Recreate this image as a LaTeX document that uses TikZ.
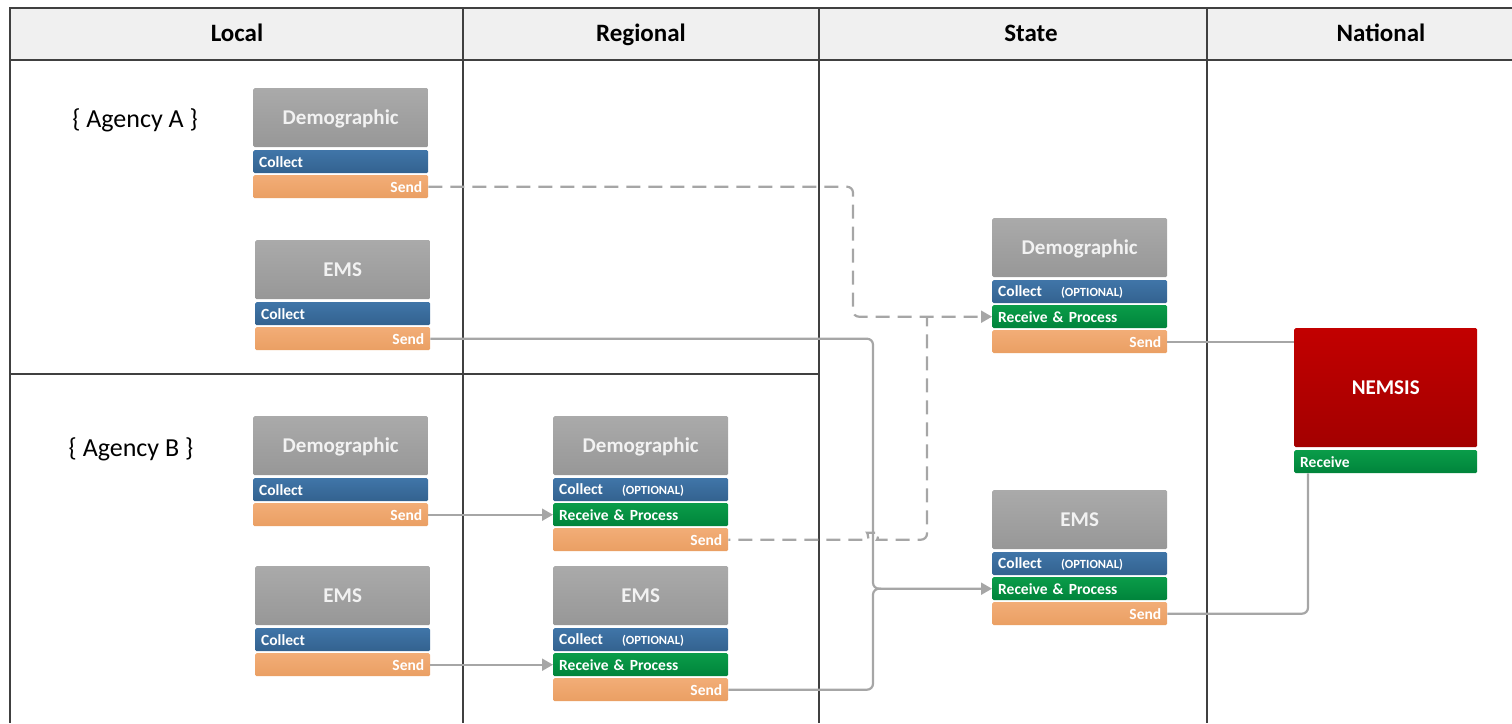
\documentclass[tikz,border=0pt]{standalone}
\usepackage{fontspec}
\setmainfont{Carlito}
\usetikzlibrary{arrows.meta,calc}
\definecolor{gtop}{HTML}{AAAAAA}
\definecolor{gbot}{HTML}{979797}
\definecolor{btop}{HTML}{4075A8}
\definecolor{bbot}{HTML}{33628F}
\definecolor{ntop}{HTML}{0A9C49}
\definecolor{nbot}{HTML}{00843B}
\definecolor{otop}{HTML}{F2AD77}
\definecolor{obot}{HTML}{EA9F63}
\definecolor{rtop}{HTML}{C20000}
\definecolor{rbot}{HTML}{A30000}
\definecolor{conn}{HTML}{A6A6A6}
\definecolor{frame}{HTML}{404040}
\definecolor{hdrbg}{HTML}{F0F0F0}
\definecolor{ttl}{HTML}{F2F2F2}
\tikzset{
  hd/.style={anchor=north west, minimum width=175pt, minimum height=59pt, inner sep=0pt,
    top color=gtop, bottom color=gbot, rounded corners=1.5pt, text=ttl,
    text height=16pt, text depth=2pt,
    font=\bfseries\fontsize{21}{24}\selectfont},
  band/.style={anchor=north west, text width=163pt, inner xsep=6pt, inner ysep=0pt,
    minimum height=23pt, rounded corners=1.5pt, text=white,
    font=\bfseries\fontsize{15.5}{17}\selectfont},
  collectb/.style={band, align=left, top color=btop, bottom color=bbot},
  recvb/.style={band, align=left, top color=ntop, bottom color=nbot},
  sendb/.style={band, align=right, top color=otop, bottom color=obot},
  colhead/.style={anchor=base, font=\bfseries\fontsize{25}{28}\selectfont, text=black},
  agency/.style={anchor=base, font=\fontsize{26}{30}\selectfont, text=black},
  gridline/.style={draw=frame, line width=2.2pt},
  sconn/.style={draw=conn, line width=2.2pt, rounded corners=6pt},
  dconn/.style={sconn, dash pattern=on 14pt off 8pt},
  tip/.style={-{Triangle[length=11pt,width=12pt]}}
}
\newcommand{\opt}{{\fontsize{12.5}{14}\selectfont (OPTIONAL)}}
\newcommand{\colopt}{\makebox[63pt][l]{Collect}\opt}
\begin{document}
\begin{tikzpicture}[x=1pt,y=-1pt]
\useasboundingbox (0,0) rectangle (1512,723);
% header band
\fill[hdrbg] (10,8) rectangle (1512,60);
% grid
\draw[gridline] (1512,8) -- (10,8) -- (10,723);
\draw[gridline] (10,60) -- (1512,60);
\draw[gridline] (463,8) -- (463,723);
\draw[gridline] (819,8) -- (819,723);
\draw[gridline] (1207,8) -- (1207,723);
\draw[gridline] (10,374) -- (819,374);
% column headers
\node[colhead] (hL) at (237,41) {Local};
\node[colhead] (hR) at (641,41) {Regional};
\node[colhead] (hS) at (1031,41) {State};
\node[colhead] (hN) at (1381,41) {National};
% agencies
\node[agency] (agA) at (135,127) {\{ Agency A \}};
\node[agency] (agB) at (131,456) {\{ Agency B \}};
% Agency A demographic
\node[hd] (aD) at (253,88) {Demographic};
\node[collectb] (aDC) at (253,150) {Collect};
\node[sendb] (aDS) at (253,175) {Send};
% Agency A EMS
\node[hd] (aE) at (255,240) {EMS};
\node[collectb] (aEC) at (255,302) {Collect};
\node[sendb] (aES) at (255,327) {Send};
% Agency B demographic
\node[hd] (bD) at (253,416) {Demographic};
\node[collectb] (bDC) at (253,478) {Collect};
\node[sendb] (bDS) at (253,503) {Send};
% Agency B EMS
\node[hd] (bE) at (255,566) {EMS};
\node[collectb] (bEC) at (255,628) {Collect};
\node[sendb] (bES) at (255,653) {Send};
% Regional demographic
\node[hd] (rD) at (553,416) {Demographic};
\node[collectb] (rDC) at (553,478) {\colopt};
\node[recvb] (rDR) at (553,503) {Receive \& Process};
\node[sendb] (rDS) at (553,528) {Send};
% Regional EMS
\node[hd] (rE) at (553,566) {EMS};
\node[collectb] (rEC) at (553,628) {\colopt};
\node[recvb] (rER) at (553,653) {Receive \& Process};
\node[sendb] (rES) at (553,678) {Send};
% State demographic
\node[hd] (sD) at (992,218) {Demographic};
\node[collectb] (sDC) at (992,280) {\colopt};
\node[recvb] (sDR) at (992,305) {Receive \& Process};
\node[sendb] (sDS) at (992,330) {Send};
% State EMS
\node[hd] (sE) at (992,490) {EMS};
\node[collectb] (sEC) at (992,552) {\colopt};
\node[recvb] (sER) at (992,577) {Receive \& Process};
\node[sendb] (sES) at (992,602) {Send};
% NEMSIS
\node[hd, minimum width=183pt, minimum height=119pt, top color=rtop, bottom color=rbot, text=white] (nem) at (1294,328) {NEMSIS};
\node[recvb, text width=171pt] (nemR) at (1294,450) {Receive};
% junction coordinates
\coordinate (jA) at (853,0);
\coordinate (jB) at (927,0);
\coordinate (jE) at (873,0);
\coordinate (jN) at (1308,0);
% connectors
\draw[dconn, tip] (aDS.east) -| (jA |- sDR.west) -- (sDR.west);
\draw[dconn, dash phase=12pt] (rDS.east) -- ($(jE |- rDS.east)+(-10,0)$)
   .. controls ($(jE |- rDS.east)+(-5,0)$) and ($(jE |- rDS.east)+(-5,-7)$) .. ($(jE |- rDS.east)+(0,-7)$)
   .. controls ($(jE |- rDS.east)+(5,-7)$) and ($(jE |- rDS.east)+(5,0)$) .. ($(jE |- rDS.east)+(10,0)$)
   -- (jB |- rDS.east) -- (jB |- sDR.west);
\draw[sconn, tip] (aES.east) -| (jE |- sER.west) -- (sER.west);
\draw[sconn] (rES.east) -| (jE |- sER.west) -- ($(jE |- sER.west)+(8,0)$);
\draw[sconn, tip] (bDS.east) -- (rDR.west);
\draw[sconn, tip] (bES.east) -- (rER.west);
\draw[sconn] (sDS.east) -- (sDS.east -| nem.west);
\draw[sconn] (sES.east) -| (jN |- nemR.south);
\end{tikzpicture}
\end{document}
